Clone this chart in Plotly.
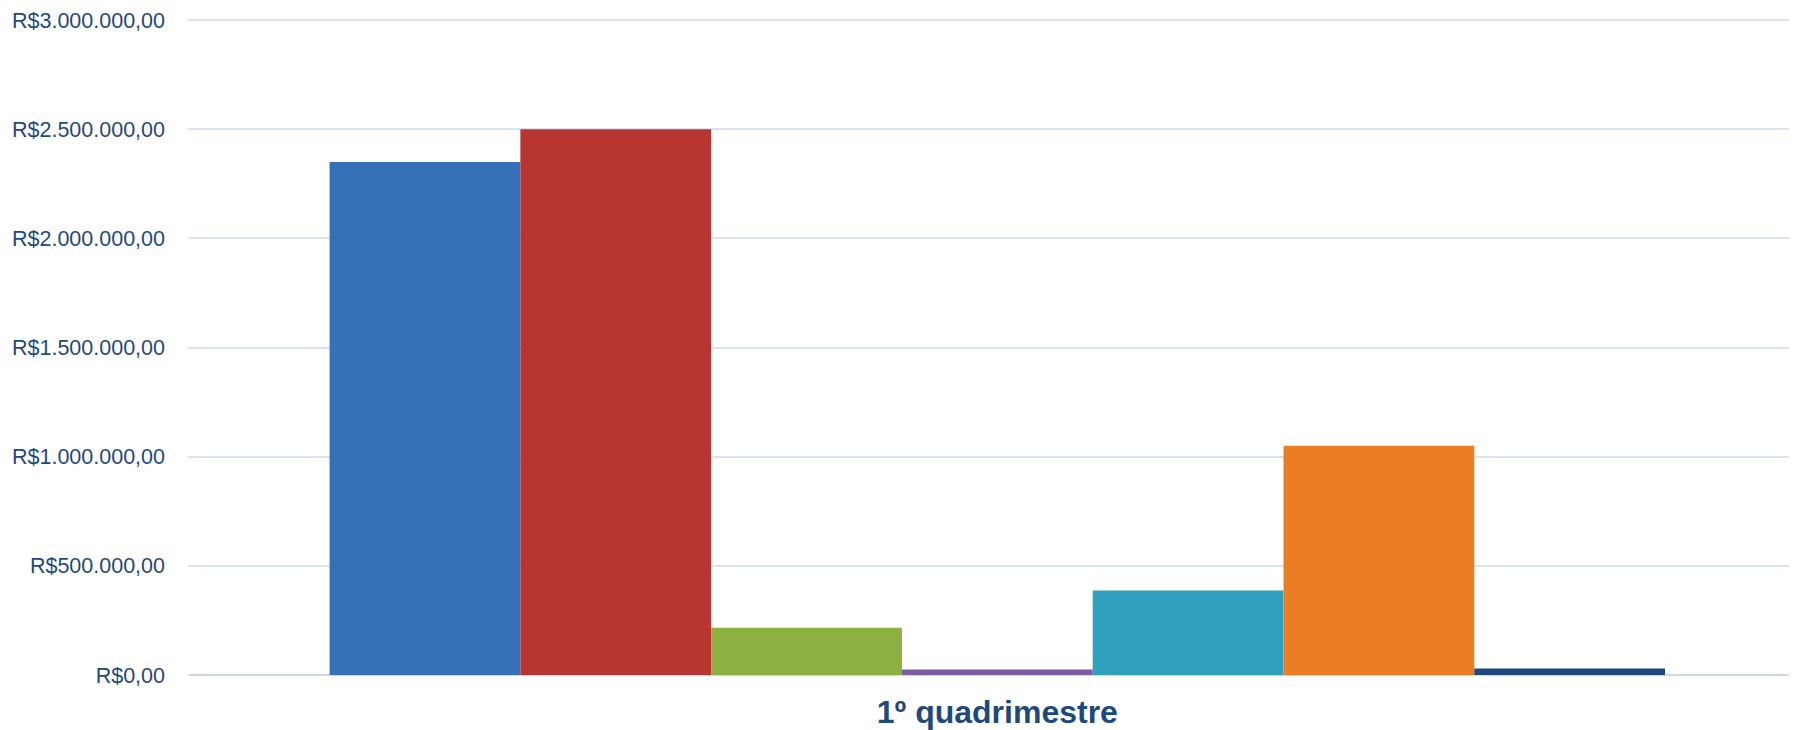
import plotly.graph_objects as go

categoria = ["1º quadrimestre"]
series = ["Série 1", "Série 2", "Série 3", "Série 4", "Série 5", "Série 6", "Série 7"]
valores = [2350000, 2500000, 217000, 25000, 387000, 1050000, 30000]
cores = ["#3670B8", "#B83532", "#8CB042", "#7F5AA5", "#30A0BE", "#EB7D25", "#1F497D"]

fig = go.Figure()
for nome, v, c in zip(series, valores, cores):
    fig.add_trace(go.Bar(x=categoria, y=[v], name=nome, marker=dict(color=c, line=dict(width=0))))

# a página tem margem de 8px no body, por isso o tamanho é 1789x722
fig.update_layout(
    width=1789, height=722,
    margin=dict(l=180, r=0, t=10, b=55),
    barmode="group", bargap=0.17, bargroupgap=0,
    showlegend=False,
    plot_bgcolor="white", paper_bgcolor="white",
    separators=",.",
    font=dict(family="Liberation Sans, Arial", color="#1F497D"),
)
fig.update_xaxes(
    range=[-0.503, 0.497],
    showgrid=False, showline=False, ticks="",
    tickfont=dict(size=32, family="Liberation Sans, Arial", weight="bold", color="#1F497D"),
    ticklabelstandoff=15,
)
fig.update_yaxes(
    range=[0, 3010000], dtick=500000,
    tickprefix="R$", tickformat=",.2f",
    gridcolor="#D9E3F2", gridwidth=2,
    zeroline=True, zerolinecolor="#CFD8E6", zerolinewidth=2,
    tickfont=dict(size=21.5, color="#1F497D"),
    ticklabelstandoff=22,
)

fig.write_html("out.html")
